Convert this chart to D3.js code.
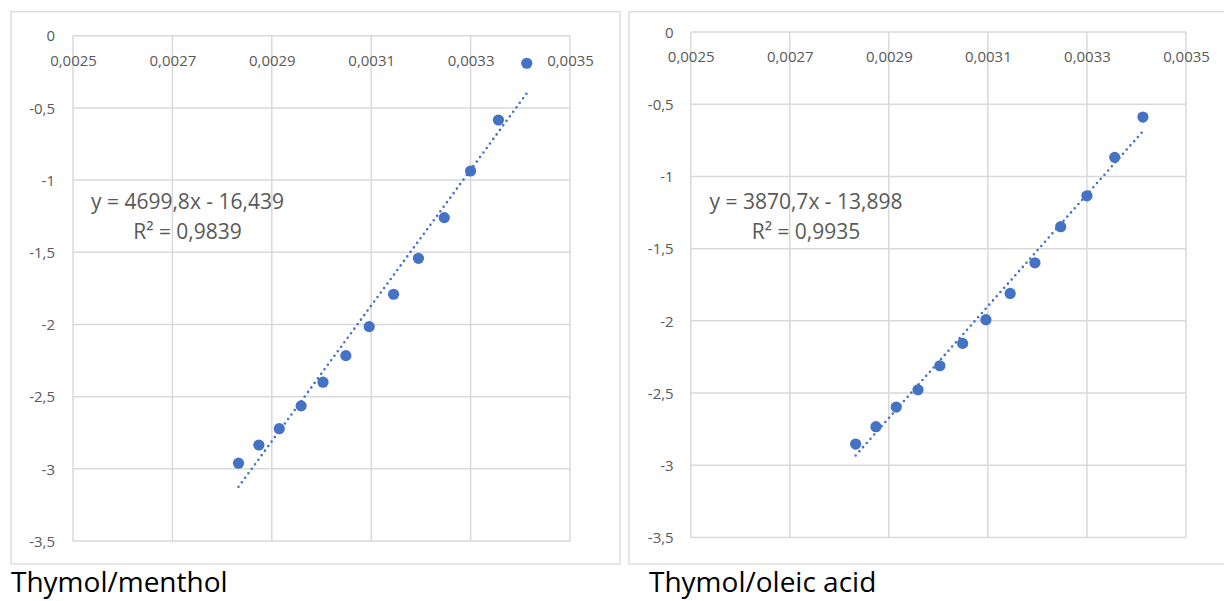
<!DOCTYPE html>
<html>
<head>
<meta charset="utf-8">
<script src="https://cdn.jsdelivr.net/npm/d3@7"></script>
<style>
  body { margin: 0; background: #fff; }
  svg { display: block; font-family: "Open Sans", sans-serif; }
</style>
</head>
<body>
<script>
// 1/T values shared by both series.
const invT = [0.002833, 0.002874, 0.002915, 0.002959, 0.003003, 0.003049, 0.003096,
              0.003145, 0.003195, 0.003247, 0.003300, 0.003356, 0.003413];

// ln values, thymol/menthol.
const lnMenthol = [-2.961, -2.835, -2.722, -2.564, -2.400, -2.216, -2.015,
                   -1.791, -1.542, -1.260, -0.937, -0.584, -0.191];

// ln values, thymol/oleic acid.
const lnOleic = [-2.853, -2.733, -2.597, -2.477, -2.311, -2.156, -1.992,
                 -1.810, -1.598, -1.348, -1.134, -0.868, -0.589];

// Trendline coefficients (slope, intercept) and R².
const fitMenthol = [4699.8, -16.439, 0.9839];
const fitOleic = [3870.7, -13.898, 0.9935];

// Axis ticks.
const xTicks = [0.0025, 0.0027, 0.0029, 0.0031, 0.0033, 0.0035];
const yTicks = [0, -0.5, -1, -1.5, -2, -2.5, -3, -3.5];

// Panel titles.
const titles = ["Thymol/menthol", "Thymol/oleic acid"];

const Blue = "#4472C4";
const Grid = "#d9d9d9";
const Label = "#595959";

// Comma as decimal mark, plain hyphen for minus.
const locale = d3.formatLocale({decimal: ",", thousands: ".", grouping: [3], currency: ["", ""], minus: "-"});
const fmtX = locale.format(".4f");
const fmtY = locale.format("~g");

const svg = d3.select("body").append("svg")
    .attr("width", 1224)
    .attr("height", 601);

const drawPanel = function (p, xs, ys, fit, title) {
    // Chart area border.
    svg.append("rect")
        .attr("x", p.bx).attr("y", p.by)
        .attr("width", p.bw).attr("height", p.bh)
        .attr("fill", "#fff")
        .attr("stroke", Grid)
        .attr("stroke-width", 1.3);

    const x = d3.scaleLinear().domain([0.0025, 0.0035]).range([p.x0, p.x1]);
    const y = d3.scaleLinear().domain([-3.5, 0]).range([p.y1, p.y0]);

    const g = svg.append("g");

    // Gridlines.
    g.selectAll(".vg").data(xTicks).join("line")
        .attr("x1", d => x(d)).attr("x2", d => x(d))
        .attr("y1", p.y0).attr("y2", p.y1)
        .attr("stroke", Grid).attr("stroke-width", 1.5);
    g.selectAll(".hg").data(yTicks).join("line")
        .attr("x1", p.x0).attr("x2", p.x1)
        .attr("y1", d => y(d)).attr("y2", d => y(d))
        .attr("stroke", Grid).attr("stroke-width", 1.5);

    // X axis labels (axis crosses at y = 0).
    const xa = g.append("g")
        .attr("transform", `translate(0,${y(0)})`)
        .call(d3.axisBottom(x).tickValues(xTicks).tickFormat(fmtX).tickSize(0));
    xa.select(".domain").remove();
    xa.selectAll("text")
        .attr("y", 25).attr("dy", "0.35em")
        .attr("fill", Label).attr("font-size", 15)
        .attr("font-family", "Open Sans");

    // Y axis labels.
    const ya = g.append("g")
        .attr("transform", `translate(${p.x0},0)`)
        .call(d3.axisLeft(y).tickValues(yTicks).tickFormat(fmtY).tickSize(0));
    ya.select(".domain").remove();
    ya.selectAll("text")
        .attr("x", -p.ylab).attr("dy", "0.35em")
        .attr("fill", Label).attr("font-size", 15)
        .attr("font-family", "Open Sans");

    // Linear trendline, dotted.
    const xmin = d3.min(xs), xmax = d3.max(xs);
    g.append("line")
        .attr("x1", x(xmin)).attr("y1", y(fit[0] * xmin + fit[1]))
        .attr("x2", x(xmax)).attr("y2", y(fit[0] * xmax + fit[1]))
        .attr("stroke", Blue)
        .attr("stroke-width", 2.6)
        .attr("stroke-linecap", "round")
        .attr("stroke-dasharray", "0 5.6");

    // Points.
    g.selectAll("circle").data(d3.zip(xs, ys)).join("circle")
        .attr("cx", d => x(d[0]))
        .attr("cy", d => y(d[1]))
        .attr("r", 5.6)
        .attr("fill", Blue);

    // Equation label.
    const eq = g.append("text")
        .attr("text-anchor", "middle")
        .attr("fill", Label)
        .attr("font-size", 21);
    eq.append("tspan")
        .attr("x", p.ex).attr("y", p.ey).attr("dy", "0.35em")
        .text(`y = ${locale.format(".1f")(fit[0])}x - ${locale.format(".3f")(-fit[1])}`);
    eq.append("tspan")
        .attr("x", p.ex).attr("y", p.ey + 30).attr("dy", "0.35em")
        .text(`R² = ${locale.format(".4f")(fit[2])}`);

    // Panel title.
    svg.append("text")
        .attr("x", p.tx).attr("y", 592)
        .attr("fill", "#000")
        .attr("font-size", 28)
        .text(title);
};

drawPanel({bx: 11, by: 11.7, bw: 609, bh: 552.3,
           x0: 73, x1: 570, y0: 35.7, y1: 541, ylab: 18,
           ex: 187.5, ey: 201.7, tx: 11},
          invT, lnMenthol, fitMenthol, titles[0]);

drawPanel({bx: 629, by: 11.7, bw: 610, bh: 552.3,
           x0: 690.7, x1: 1186, y0: 32, y1: 537.5, ylab: 17,
           ex: 806, ey: 201.7, tx: 649},
          invT, lnOleic, fitOleic, titles[1]);
</script>
</body>
</html>
